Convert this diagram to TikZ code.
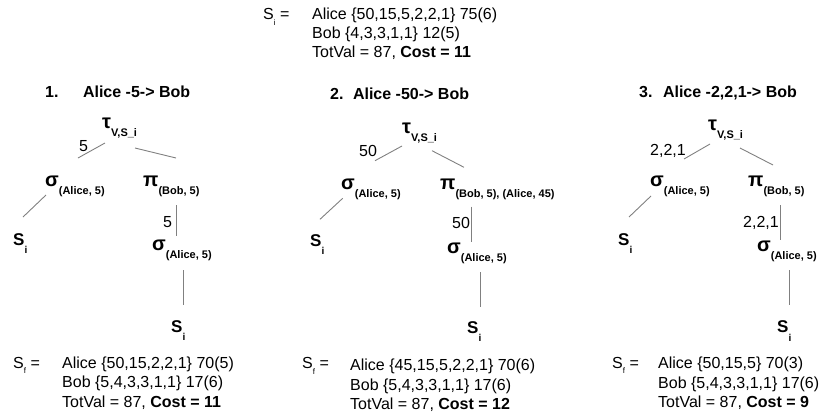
\documentclass[tikz,border=0pt]{standalone}
\usepackage{fontspec}
\setmainfont{Liberation Sans}
\usetikzlibrary{calc}

\definecolor{edgegray}{HTML}{808080}

% operator with a lowered subscript, and the leaf / set symbols
\newcommand{\opsym}[2]{{\fontsize{20}{20}\selectfont #1}\raisebox{-8pt}{\fontsize{11}{11}\selectfont #2}}
\newcommand{\leafsym}{{\fontsize{17}{17}\selectfont S}\raisebox{-8.5pt}{\fontsize{10}{10}\selectfont i}}
\newcommand{\setsym}[1]{S\raisebox{-5.5pt}{\fontsize{8}{8}\selectfont #1} =}

\tikzset{
  txt/.style = {inner sep=0, anchor=base west, font=\fontsize{16}{19}\selectfont},
  op/.style = {inner sep=0, anchor=base west, font=\bfseries},
  edge/.style = {draw=edgegray, line width=0.9pt}
}

\begin{document}
\begin{tikzpicture}[x=1pt, y=-1pt]
    \useasboundingbox (0,0) rectangle (824,418);

    % initial state
    \node[txt] (sinit) at (263, 19.5) {\setsym{i}};
    \node[txt] (sinitA) at (312, 19.5) {Alice \{50,15,5,2,2,1\} 75(6)};
    \node[txt] (sinitB) at (312, 38.5) {Bob \{4,3,3,1,1\} 12(5)};
    \node[txt] (sinitC) at (312, 57.5) {TotVal = 87, \textbf{Cost = 11}};

    % 1. Alice -5-> Bob
    \node[txt, font=\fontsize{16}{19}\selectfont\bfseries] (title1) at (45, 97) {1.\hspace{24.5pt}Alice -5-> Bob};
    \node[op] (tau1) at (102, 128.3) {\opsym{τ}{V,S\_i}};
    \node[op] (sig1a) at (45, 186) {\opsym{σ}{(Alice, 5)}};
    \node[op] (pi1) at (143, 186) {\opsym{π}{(Bob, 5)}};
    \node[op] (leaf1a) at (13, 245) {\leafsym};
    \node[op] (sig1b) at (152, 250) {\opsym{σ}{(Alice, 5)}};
    \node[op] (leaf1b) at (171, 332) {\leafsym};
    \node[txt] (lab1a) at (79, 151.5) {5};
    \node[txt] (lab1b) at (163, 227) {5};
    \draw[edge] ($ (tau1.base west) + (3, 14.7) $) -- ($ (sig1a.base west) + (33, -28) $);
    \draw[edge] ($ (tau1.base west) + (33, 19.7) $) -- ($ (pi1.base west) + (33, -28) $);
    \draw[edge] ($ (sig1a.base west) + (1, 9) $) -- ($ (leaf1a.base west) + (10, -28) $);
    \draw[edge] ($ (pi1.base west) + (33, 19) $) -- ($ (sig1b.base west) + (24, -14) $);
    \draw[edge] ($ (sig1b.base west) + (31, 20) $) -- ($ (leaf1b.base west) + (12, -27) $);
    \node[txt] (sfin1) at (13, 368) {\setsym{f}};
    \node[txt] (sfin1A) at (62, 368.3) {Alice \{50,15,2,2,1\} 70(5)};
    \node[txt] (sfin1B) at (62, 387.8) {Bob \{5,4,3,3,1,1\} 17(6)};
    \node[txt] (sfin1C) at (62, 407.3) {TotVal = 87, \textbf{Cost = 11}};

    % 2. Alice -50-> Bob
    \node[txt, font=\fontsize{16}{19}\selectfont\bfseries] (title2) at (330, 99.5) {2.\hspace{9.5pt}Alice -50-> Bob};
    \node[op] (tau2) at (402, 133.5) {\opsym{τ}{V,S\_i}};
    \node[op] (sig2a) at (341, 189.5) {\opsym{σ}{(Alice, 5)}};
    \node[op] (pi2) at (440, 189.5) {\opsym{π}{(Bob, 5), (Alice, 45)}};
    \node[op] (leaf2a) at (310, 246) {\leafsym};
    \node[op] (sig2b) at (447, 253) {\opsym{σ}{(Alice, 5)}};
    \node[op] (leaf2b) at (467, 333) {\leafsym};
    \node[txt] (lab2a) at (359, 156.7) {50};
    \node[txt] (lab2b) at (452, 228.3) {50};
    \draw[edge] ($ (tau2.base west) + (0, 12.5) $) -- ($ (sig2a.base west) + (34, -28.8) $);
    \draw[edge] ($ (tau2.base west) + (30, 17.2) $) -- ($ (pi2.base west) + (24, -22.2) $);
    \draw[edge] ($ (sig2a.base west) + (1.7, 8.8) $) -- ($ (leaf2a.base west) + (10, -26.7) $);
    \draw[edge] ($ (pi2.base west) + (31.7, 17.2) $) -- ($ (sig2b.base west) + (24.7, -11.3) $);
    \draw[edge] ($ (sig2b.base west) + (33, 19) $) -- ($ (leaf2b.base west) + (13, -26) $);
    \node[txt] (sfin2) at (302, 368.5) {\setsym{f}};
    \node[txt] (sfin2A) at (350, 370.5) {Alice \{45,15,5,2,2,1\} 70(6)};
    \node[txt] (sfin2B) at (350, 390) {Bob \{5,4,3,3,1,1\} 17(6)};
    \node[txt] (sfin2C) at (350, 409.5) {TotVal = 87, \textbf{Cost = 12}};

    % 3. Alice -2,2,1-> Bob
    \node[txt, font=\fontsize{16}{19}\selectfont\bfseries] (title3) at (639, 97) {3.\hspace{10.5pt}Alice -2,2,1-> Bob};
    \node[op] (tau3) at (708, 130) {\opsym{τ}{V,S\_i}};
    \node[op] (sig3a) at (650, 186.5) {\opsym{σ}{(Alice, 5)}};
    \node[op] (pi3) at (748, 186.5) {\opsym{π}{(Bob, 5)}};
    \node[op] (leaf3a) at (618, 245) {\leafsym};
    \node[op] (sig3b) at (757, 251.5) {\opsym{σ}{(Alice, 5)}};
    \node[op] (leaf3b) at (777, 332.5) {\leafsym};
    \node[txt] (lab3a) at (650, 155) {2,2,1};
    \node[txt] (lab3b) at (743, 227) {2,2,1};
    \draw[edge] ($ (tau3.base west) + (2, 14) $) -- ($ (sig3a.base west) + (34, -27.5) $);
    \draw[edge] ($ (tau3.base west) + (32, 18) $) -- ($ (pi3.base west) + (25, -21.5) $);
    \draw[edge] ($ (sig3a.base west) + (1, 9.5) $) -- ($ (leaf3a.base west) + (11, -28) $);
    \draw[edge] ($ (pi3.base west) + (32, 18.5) $) -- ($ (sig3b.base west) + (23, -11.5) $);
    \draw[edge] ($ (sig3b.base west) + (32, 18.5) $) -- ($ (leaf3b.base west) + (12, -27.5) $);
    \node[txt] (sfin3) at (612, 368) {\setsym{f}};
    \node[txt] (sfin3A) at (658, 368.5) {Alice \{50,15,5\} 70(3)};
    \node[txt] (sfin3B) at (658, 388) {Bob \{5,4,3,3,1,1\} 17(6)};
    \node[txt] (sfin3C) at (658, 407.5) {TotVal = 87, \textbf{Cost = 9}};

\end{tikzpicture}
\end{document}
